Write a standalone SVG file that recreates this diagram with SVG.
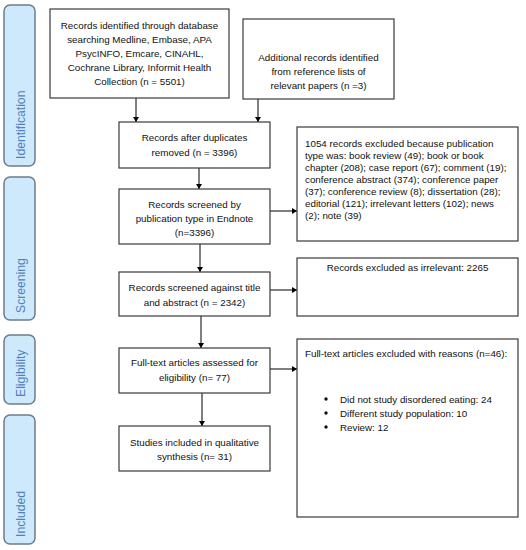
<svg xmlns="http://www.w3.org/2000/svg" width="526" height="550" viewBox="0 0 526 550">
<defs>
<marker id="ah" markerWidth="6" markerHeight="6" refX="5" refY="3" orient="auto" markerUnits="userSpaceOnUse">
<path d="M0,0 L5,3 L0,6 Z" fill="#000"/>
</marker>
<style>
.box{fill:#fff;stroke:#3a3a3a;stroke-width:1.2}
.side{fill:#cfe9fc;stroke:#6d7c89;stroke-width:1.5}
.t{font-family:"Liberation Sans",Arial,sans-serif;font-size:9.8px;fill:#111}
.c{text-anchor:middle}
.st{font-family:"Liberation Sans",Arial,sans-serif;font-size:12.2px;fill:#4f81bd}
.con{stroke:#000;stroke-width:1;fill:none;marker-end:url(#ah)}
</style>
</defs>
<rect width="526" height="550" fill="#fff"/>
<g id="side-identification"><rect class="side" x="4" y="5" width="31" height="161" rx="6"/><text class="st" transform="translate(24.5,159) rotate(-90)">Identification</text></g>
<g id="side-screening"><rect class="side" x="4" y="177" width="31" height="143" rx="6"/><text class="st" transform="translate(24.5,313) rotate(-90)">Screening</text></g>
<g id="side-eligibility"><rect class="side" x="4" y="335" width="31" height="69" rx="6"/><text class="st" transform="translate(24.5,397) rotate(-90)">Eligibility</text></g>
<g id="side-included"><rect class="side" x="4" y="415" width="31" height="129" rx="6"/><text class="st" transform="translate(24.5,537) rotate(-90)">Included</text></g>

<g id="connectors">
<line class="con" x1="136" y1="98" x2="136" y2="122"/>
<line class="con" x1="258" y1="99" x2="258" y2="122"/>
<line class="con" x1="199" y1="168" x2="199" y2="189"/>
<line class="con" x1="200" y1="244" x2="200" y2="272"/>
<line class="con" x1="201" y1="316" x2="201" y2="348"/>
<line class="con" x1="202" y1="393" x2="202" y2="426"/>
<line class="con" x1="270" y1="211" x2="297" y2="211"/>
<line class="con" x1="270" y1="290" x2="297" y2="290"/>
<line class="con" x1="270" y1="369" x2="297" y2="369"/>
</g>

<g id="n-db"><rect class="box" x="50" y="9" width="179" height="89"/>
<text class="t c" x="139.5" y="29">Records identified through database</text>
<text class="t c" x="139.5" y="43">searching Medline, Embase, APA</text>
<text class="t c" x="139.5" y="57">PsycINFO, Emcare, CINAHL,</text>
<text class="t c" x="139.5" y="71">Cochrane Library, Informit Health</text>
<text class="t c" x="139.5" y="85">Collection (n = 5501)</text></g>

<g id="n-additional"><rect class="box" x="243" y="19" width="151" height="80"/>
<text class="t c" x="318.5" y="60.5">Additional records identified</text>
<text class="t c" x="318.5" y="74.5">from reference lists of</text>
<text class="t c" x="318.5" y="88.5">relevant papers (n =3)</text></g>

<g id="n-dup"><rect class="box" x="119" y="122" width="151" height="46"/>
<text class="t c" x="194.5" y="140.5">Records after duplicates</text>
<text class="t c" x="194.5" y="155.5">removed (n = 3396)</text></g>

<g id="n-pubtype"><rect class="box" x="119" y="189" width="151" height="55"/>
<text class="t c" x="194.5" y="207.5">Records screened by</text>
<text class="t c" x="194.5" y="221.5">publication type in Endnote</text>
<text class="t c" x="194.5" y="235.5">(n=3396)</text></g>

<g id="n-title"><rect class="box" x="119" y="272" width="151" height="44"/>
<text class="t c" x="194.5" y="290.5">Records screened against title</text>
<text class="t c" x="194.5" y="305.5">and abstract (n = 2342)</text></g>

<g id="n-fulltext"><rect class="box" x="119" y="348" width="151" height="45"/>
<text class="t c" x="194.5" y="365.5">Full-text articles assessed for</text>
<text class="t c" x="194.5" y="380.5">eligibility (n= 77)</text></g>

<g id="n-included"><rect class="box" x="119" y="426" width="151" height="45"/>
<text class="t c" x="194.5" y="445.5">Studies included in qualitative</text>
<text class="t c" x="194.5" y="459.5">synthesis (n= 31)</text></g>

<g id="n-excl-pub"><rect class="box" x="297" y="127" width="221" height="114"/>
<text class="t" x="305" y="146.5">1054 records excluded because publication</text>
<text class="t" x="305" y="158.5">type was: book review (49); book or book</text>
<text class="t" x="305" y="170.5">chapter (208); case report (67); comment (19);</text>
<text class="t" x="305" y="182.5">conference abstract (374); conference paper</text>
<text class="t" x="305" y="194.5">(37); conference review (8); dissertation (28);</text>
<text class="t" x="305" y="206.5">editorial (121); irrelevant letters (102); news</text>
<text class="t" x="305" y="218.5">(2); note (39)</text></g>

<g id="n-excl-irr"><rect class="box" x="297" y="258" width="221" height="58"/>
<text class="t c" x="407.5" y="270.5">Records excluded as irrelevant: 2265</text></g>

<g id="n-excl-full"><rect class="box" x="297" y="339" width="221" height="178"/>
<text class="t" x="305" y="356.5">Full-text articles excluded with reasons (n=46):</text>
<circle cx="326" cy="399" r="1.7" fill="#111"/>
<circle cx="326" cy="413" r="1.7" fill="#111"/>
<circle cx="326" cy="427" r="1.7" fill="#111"/>
<text class="t" x="340" y="402.5">Did not study disordered eating: 24</text>
<text class="t" x="340" y="416.5">Different study population: 10</text>
<text class="t" x="340" y="430.5">Review: 12</text></g>
</svg>
